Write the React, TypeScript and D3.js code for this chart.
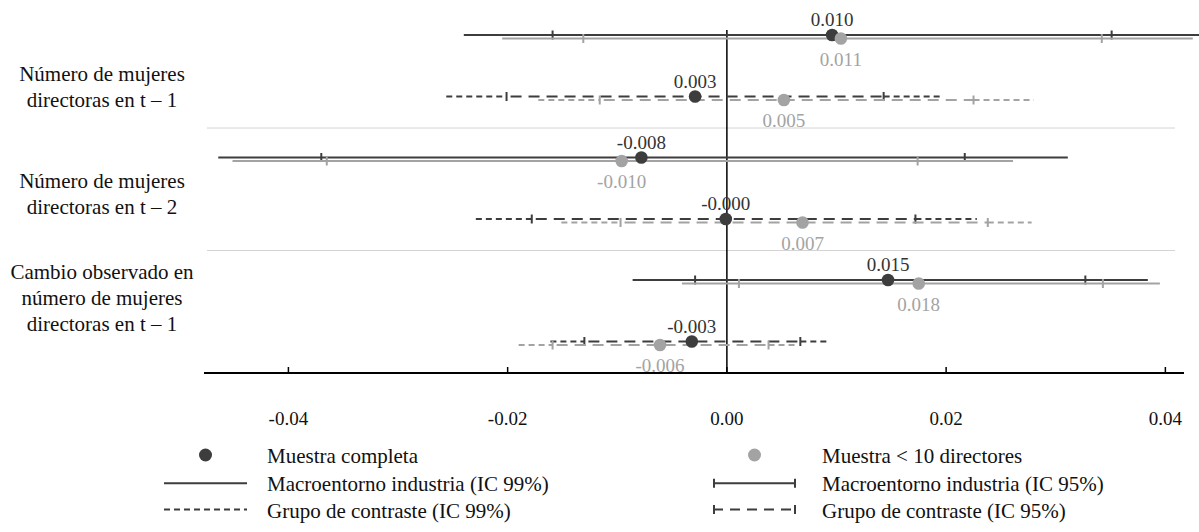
import React from "react";
import * as d3 from "d3";

const categories = [
  ["Número de mujeres", "directoras en t – 1"],
  ["Número de mujeres", "directoras en t – 2"],
  ["Cambio observado en", "número de mujeres", "directoras en t – 1"],
];

// Macroentorno industria, muestra completa
const indFullPt = [0.0096, -0.0078, 0.0147];
const indFullLo95 = [-0.0159, -0.037, -0.0029];
const indFullHi95 = [0.0351, 0.0217, 0.0327];
const indFullLo99 = [-0.024, -0.0464, -0.0086];
const indFullHi99 = [0.0435, 0.0311, 0.0384];
const indFullLbl = ["0.010", "-0.008", "0.015"];
// Macroentorno industria, muestra < 10 directores
const indSmallPt = [0.0104, -0.0096, 0.0175];
const indSmallLo95 = [-0.0131, -0.0365, 0.0011];
const indSmallHi95 = [0.0342, 0.0174, 0.0343];
const indSmallLo99 = [-0.0205, -0.0451, -0.0041];
const indSmallHi99 = [0.0425, 0.0261, 0.0395];
const indSmallLbl = ["0.011", "-0.010", "0.018"];
// Grupo de contraste, muestra completa
const conFullPt = [-0.0029, -0.0001, -0.0032];
const conFullLo95 = [-0.0201, -0.0178, -0.013];
const conFullHi95 = [0.0143, 0.0172, 0.0067];
const conFullLo99 = [-0.0256, -0.0229, -0.0161];
const conFullHi99 = [0.0195, 0.0228, 0.0092];
const conFullLbl = ["0.003", "-0.000", "-0.003"];
// Grupo de contraste, muestra < 10 directores
const conSmallPt = [0.0052, 0.0069, -0.0061];
const conSmallLo95 = [-0.0116, -0.0097, -0.0159];
const conSmallHi95 = [0.0225, 0.0238, 0.0038];
const conSmallLo99 = [-0.0172, -0.0151, -0.019];
const conSmallHi99 = [0.028, 0.0278, 0.0064];
const conSmallLbl = ["0.005", "0.007", "-0.006"];

const xTicks = [-0.04, -0.02, 0, 0.02, 0.04];

const legendItems = [
  "Muestra completa",
  "Muestra < 10 directores",
  "Macroentorno industria (IC 99%)",
  "Macroentorno industria (IC 95%)",
  "Grupo de contraste (IC 99%)",
  "Grupo de contraste (IC 95%)",
];

const DARK = "#3d3d3d";
const GRAY = "#a3a3a3";
const FONT = "'Liberation Serif', 'Times New Roman', serif";

const W = 1199;
const H = 532;

export default function App() {
  const x = d3.scaleLinear().domain([-0.0477, 0.0417]).range([204, 1184]);
  const catIdx = categories.map((_, i) => i);
  const y = d3.scaleBand<number>().domain(catIdx).range([5.5, 373]).padding(0);
  const group = d3.scaleOrdinal<string, number>().domain(["ind", "con"]).range([29.5, 91]);
  const sampleOff = d3.scaleOrdinal<string, number>().domain(["full", "small"]).range([0, 3.5]);
  const labelCenter = [87, 194, 298];
  const axisY = 373;
  const fmt = (t: number) => d3.format(".2f")(t).replace("\u2212", "-");

  const series = [
    { g: "ind", s: "full", pt: indFullPt, lo95: indFullLo95, hi95: indFullHi95, lo99: indFullLo99, hi99: indFullHi99, lbl: indFullLbl, color: DARK, dashed: false },
    { g: "ind", s: "small", pt: indSmallPt, lo95: indSmallLo95, hi95: indSmallHi95, lo99: indSmallLo99, hi99: indSmallHi99, lbl: indSmallLbl, color: GRAY, dashed: false },
    { g: "con", s: "full", pt: conFullPt, lo95: conFullLo95, hi95: conFullHi95, lo99: conFullLo99, hi99: conFullHi99, lbl: conFullLbl, color: DARK, dashed: true },
    { g: "con", s: "small", pt: conSmallPt, lo95: conSmallLo95, hi95: conSmallHi95, lo99: conSmallLo99, hi99: conSmallHi99, lbl: conSmallLbl, color: GRAY, dashed: true },
  ];

  const rowY = (i: number, g: string, s: string) => (y(i) as number) + group(g) + sampleOff(s);

  const lines: React.ReactNode[] = [];
  const points: React.ReactNode[] = [];
  series.forEach((se, k) => {
    catIdx.forEach((i) => {
      const yy = rowY(i, se.g, se.s);
      const key = `${k}-${i}`;
      if (!se.dashed) {
        lines.push(
          <line key={key + "l99"} x1={x(se.lo99[i])} x2={x(se.hi99[i])} y1={yy} y2={yy} stroke={se.color} strokeWidth={2} />
        );
      } else {
        lines.push(
          <line key={key + "l99a"} x1={x(se.lo99[i])} x2={x(se.lo95[i])} y1={yy} y2={yy} stroke={se.color} strokeWidth={2} strokeDasharray="6,4" />,
          <line key={key + "l99b"} x1={x(se.hi95[i])} x2={x(se.hi99[i])} y1={yy} y2={yy} stroke={se.color} strokeWidth={2} strokeDasharray="6,4" />,
          <line key={key + "l95"} x1={x(se.lo95[i]) + 4} x2={x(se.hi95[i])} y1={yy} y2={yy} stroke={se.color} strokeWidth={2} strokeDasharray="11,7" />
        );
      }
      [se.lo95[i], se.hi95[i]].forEach((v, j) =>
        lines.push(
          <line key={key + "t" + j} x1={x(v)} x2={x(v)} y1={yy - 4.5} y2={yy + 4.5} stroke={se.color} strokeWidth={2} />
        )
      );
      points.push(<circle key={key + "p"} cx={x(se.pt[i])} cy={yy} r={6.3} fill={se.color} />);
      points.push(
        <text
          key={key + "tx"}
          x={x(se.pt[i])}
          y={se.s === "full" ? yy - 9 : yy + 27}
          textAnchor="middle"
          fontSize={19}
          fill={se.s === "full" ? "#333" : GRAY}
        >
          {se.lbl[i]}
        </text>
      );
    });
  });

  const separators = catIdx.slice(1).map((i) => (
    <line key={"sep" + i} x1={207} x2={1175} y1={y(i) as number} y2={y(i) as number} stroke="#d4d4d4" strokeWidth={1} />
  ));

  const legendCols = [164, 713];
  const legendRows = [455, 483.3, 509.5];
  const legend = legendItems.map((label, idx) => {
    const col = idx % 2;
    const row = Math.floor(idx / 2);
    const x0 = legendCols[col];
    const x1 = x0 + 83;
    const ly = legendRows[row];
    const color = row === 0 ? (col === 0 ? DARK : GRAY) : DARK;
    let marker: React.ReactNode = null;
    if (row === 0) {
      marker = <circle cx={(x0 + x1) / 2} cy={ly} r={6.5} fill={color} />;
    } else {
      const dash = row === 2 ? (col === 0 ? "6,4" : "10,7") : undefined;
      marker = (
        <g>
          <line x1={x0} x2={x1} y1={ly} y2={ly} stroke={color} strokeWidth={2} strokeDasharray={dash} />
          {col === 1 && (
            <>
              <line x1={x0 + 1} x2={x0 + 1} y1={ly - 4.5} y2={ly + 4.5} stroke={color} strokeWidth={2} />
              <line x1={x1 - 1} x2={x1 - 1} y1={ly - 4.5} y2={ly + 4.5} stroke={color} strokeWidth={2} />
            </>
          )}
        </g>
      );
    }
    return (
      <g key={"lg" + idx}>
        {marker}
        <text x={col === 0 ? 267 : 822} y={ly + 8} fontSize={21} fill="#111">
          {label}
        </text>
      </g>
    );
  });

  return (
    <svg
      width={W}
      height={H}
      style={{ position: "absolute", left: 0, top: 0, background: "#fff" }}
      fontFamily={FONT}
    >
      {separators}
      {categories.map((lines_, i) => (
        <text key={"cat" + i} textAnchor="middle" fontSize={21} fill="#111">
          {lines_.map((ln, j) => (
            <tspan key={j} x={102} y={labelCenter[i] + (j - (lines_.length - 1) / 2) * 25.7 + 7}>
              {ln}
            </tspan>
          ))}
        </text>
      ))}
      <line x1={x(0)} x2={x(0)} y1={30} y2={axisY} stroke="#000" strokeWidth={1.5} />
      {lines}
      {points}
      <line x1={x.range()[0]} x2={x.range()[1]} y1={axisY} y2={axisY} stroke="#000" strokeWidth={2} />
      {xTicks.map((t) => (
        <g key={"xt" + t}>
          <line x1={x(t)} x2={x(t)} y1={axisY - 6} y2={axisY} stroke="#000" strokeWidth={1.5} />
          <text x={x(t)} y={425} textAnchor="middle" fontSize={19} fill="#111">
            {fmt(t)}
          </text>
        </g>
      ))}
      {legend}
    </svg>
  );
}
